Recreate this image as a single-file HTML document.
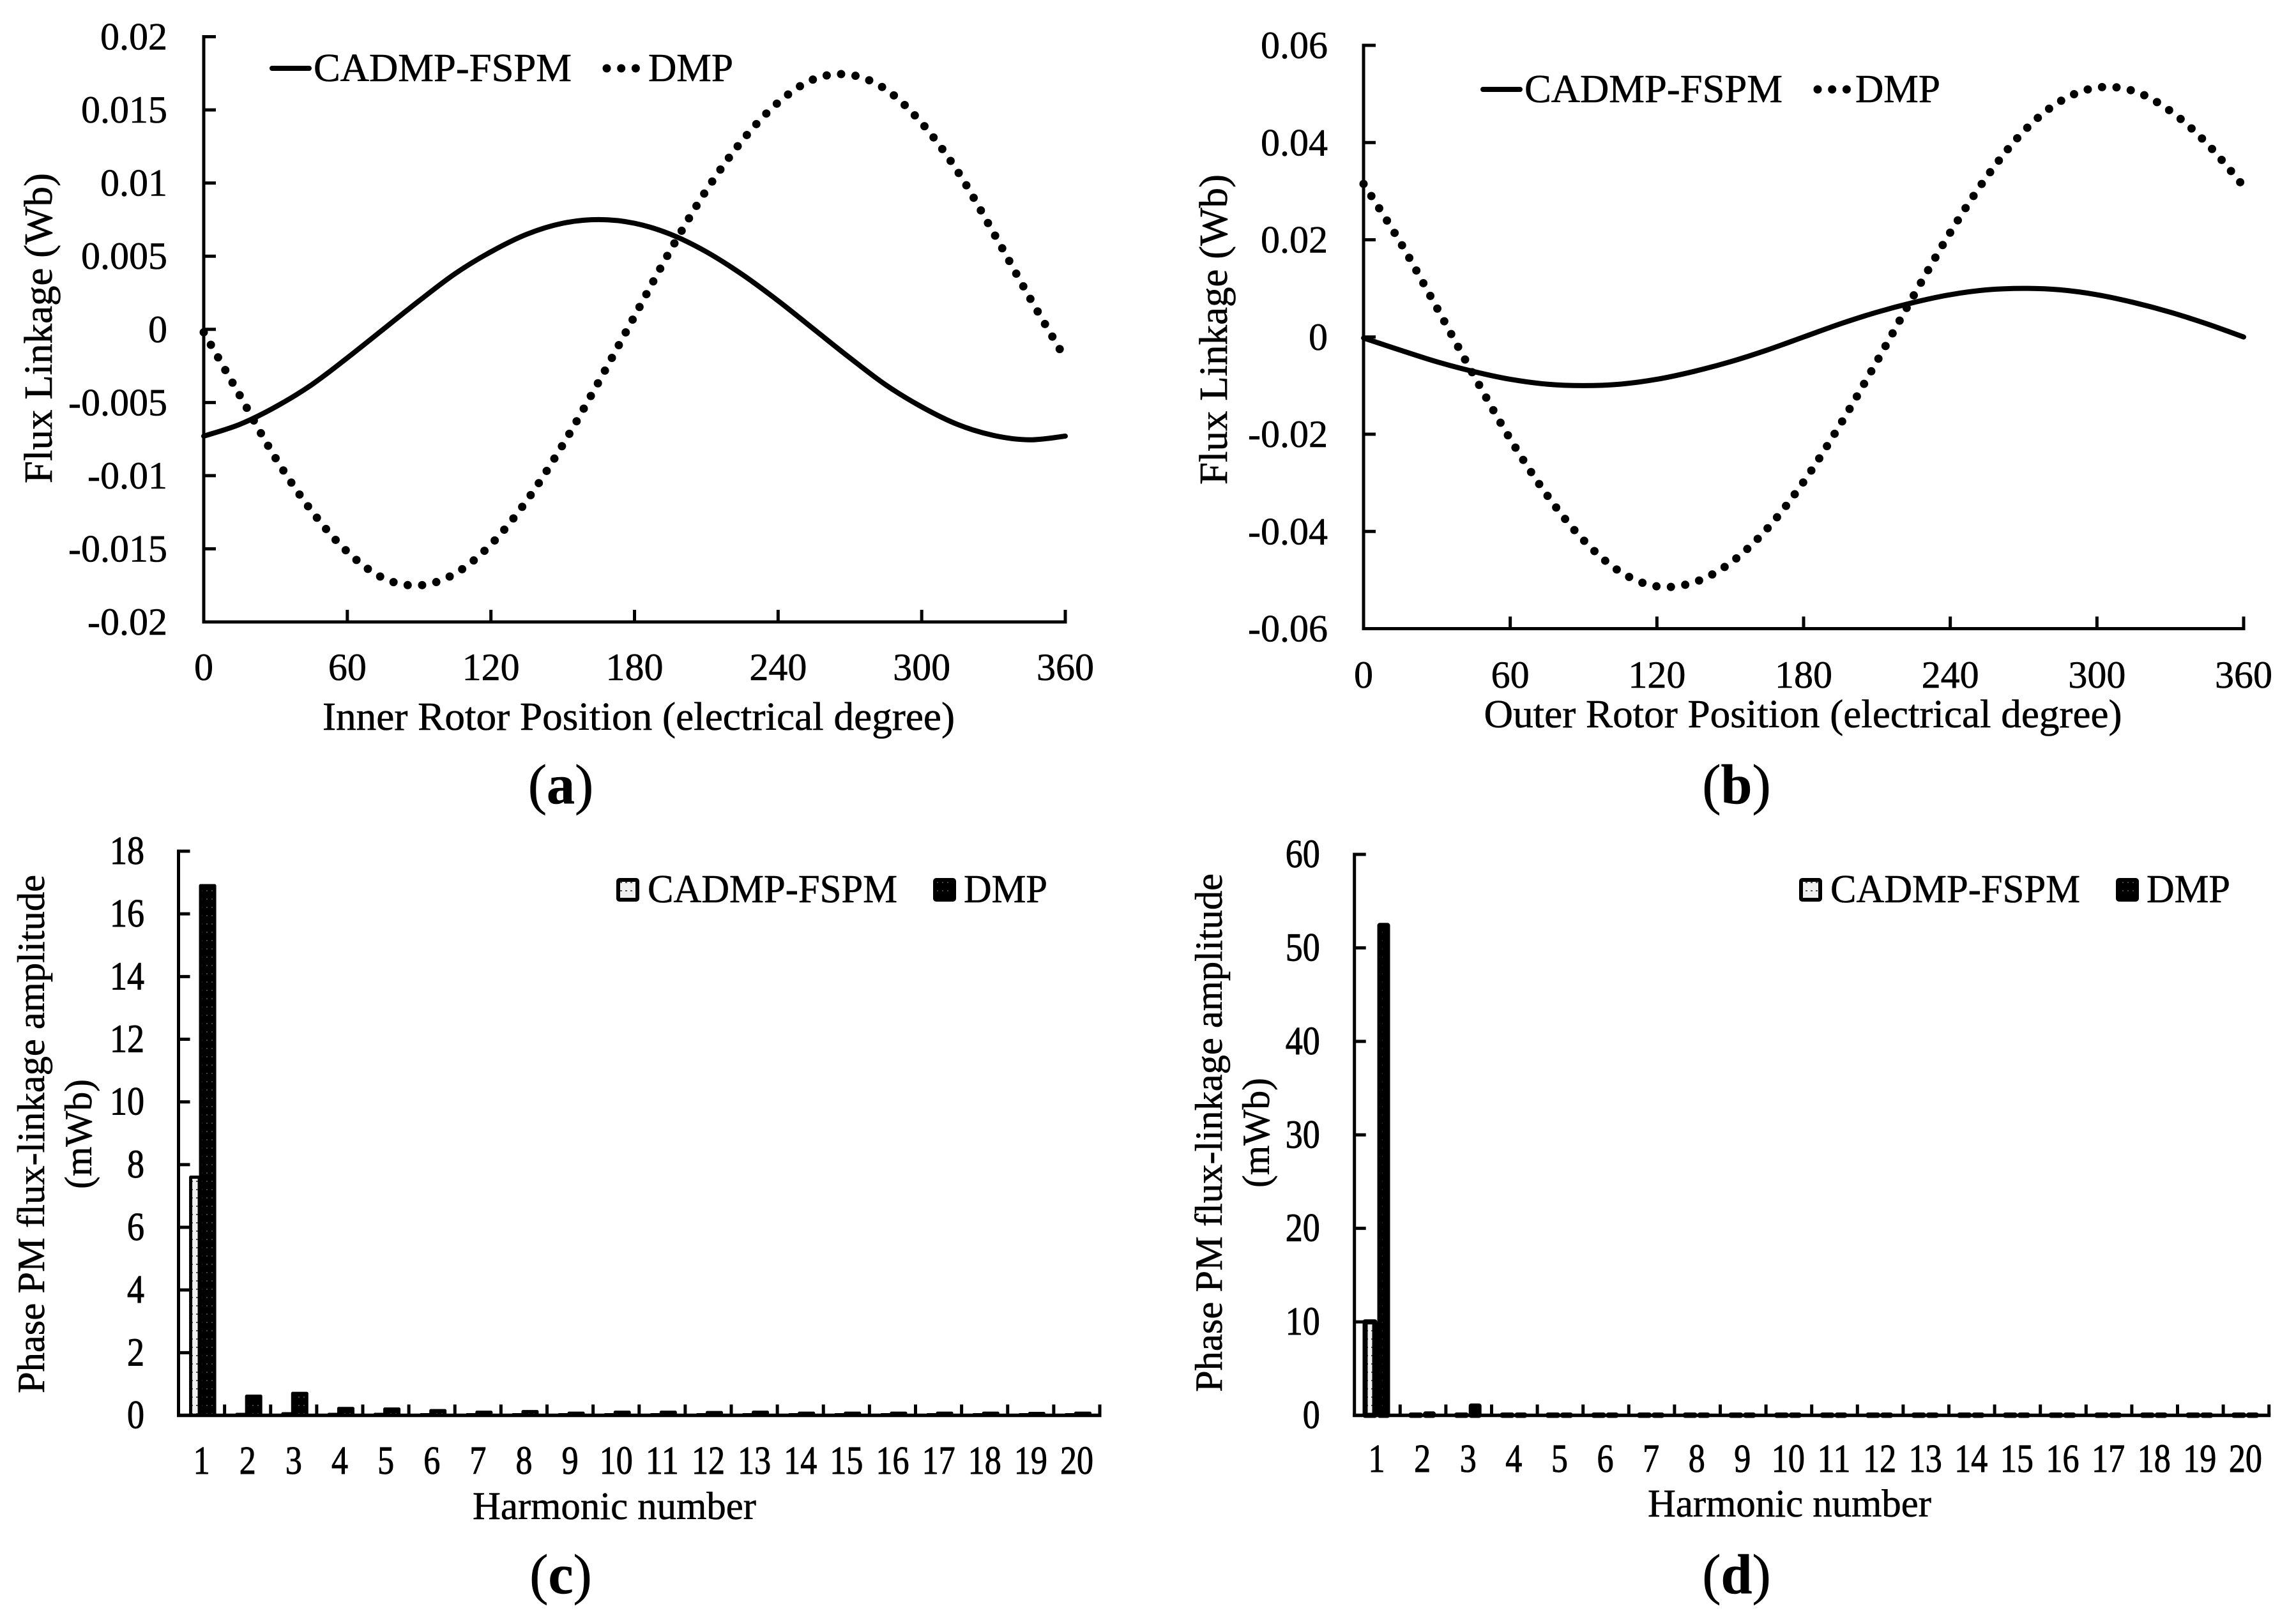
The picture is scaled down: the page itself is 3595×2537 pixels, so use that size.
<!DOCTYPE html>
<html lang="en">
<head>
<meta charset="utf-8">
<title>Flux linkage comparison of CADMP-FSPM and DMP</title>
<style>
html,body{margin:0;padding:0;background:#fff;}
svg{display:block;}
text{font-family:"Liberation Serif",serif;fill:#000;stroke:#000;stroke-width:0.6px;}
</style>
</head>
<body>
<svg id="figure" xmlns="http://www.w3.org/2000/svg" width="3595" height="2537" viewBox="0 0 3595 2537">
<defs>
<pattern id="cadmp-pattern" width="8" height="13" patternUnits="userSpaceOnUse"><rect width="8" height="13" fill="#f0f0f0"/><rect x="3" y="3" width="3" height="2" fill="#555"/></pattern>
<pattern id="dmp-pattern" width="8" height="13" patternUnits="userSpaceOnUse"><rect width="8" height="13" fill="#000"/><rect x="3" y="3" width="2" height="2" fill="#444"/></pattern>
</defs>
</svg>
<script>
// Panel (a): inner rotor flux linkage, sampled every 15 electrical degrees
const positionA = [0,15,30,45,60,75,90,105,120,135,150,165,180,195,210,225,240,255,270,285,300,315,330,345,360];
const cadmpA = [-0.0073,-0.0065,-0.0053,-0.0038,-0.00195,0,0.00195,0.0038,0.0053,0.0065,0.00725,0.0075,0.00725,0.0065,0.0053,0.00375,0.00195,0,-0.00195,-0.0038,-0.0053,-0.0065,-0.00725,-0.00755,-0.0073];
const dmpA = [-0.0002,-0.0045,-0.0088,-0.0124,-0.0152,-0.0170,-0.0175,-0.0167,-0.0147,-0.0117,-0.0079,-0.0036,0.0009,0.0054,0.0095,0.0129,0.0155,0.0171,0.0174,0.0164,0.0141,0.0108,0.0066,0.0022,-0.0020];
const yTicksA = [0.02,0.015,0.01,0.005,0,-0.005,-0.01,-0.015,-0.02];
const xTicksA = [0,60,120,180,240,300,360];

// Panel (b): outer rotor flux linkage
const positionB = [0,15,30,45,60,75,90,105,120,135,150,165,180,195,210,225,240,255,270,285,300,315,330,345,360];
const cadmpB = [-0.0002,-0.0027,-0.0051,-0.0071,-0.0087,-0.0097,-0.0100,-0.0097,-0.0087,-0.0071,-0.0051,-0.0027,0,0.0027,0.0051,0.0071,0.0087,0.0097,0.0100,0.0097,0.0087,0.0071,0.0051,0.0027,0];
const dmpB = [0.0315,0.0195,0.0060,-0.0078,-0.0210,-0.0325,-0.0418,-0.0483,-0.0513,-0.0505,-0.0465,-0.0395,-0.0298,-0.0180,-0.0050,0.0085,0.0215,0.0330,0.0423,0.0485,0.0513,0.0506,0.0465,0.0398,0.0310];
const yTicksB = [0.06,0.04,0.02,0,-0.02,-0.04,-0.06];
const xTicksB = [0,60,120,180,240,300,360];

// Panel (c): inner rotor harmonic amplitudes (mWb)
const harmonics = [1,2,3,4,5,6,7,8,9,10,11,12,13,14,15,16,17,18,19,20];
const cadmpC = [7.6,0.03,0.05,0.03,0.03,0.02,0.02,0.02,0.02,0.02,0.02,0.02,0.02,0.02,0.02,0.02,0.02,0.02,0.02,0.02];
const dmpC = [16.9,0.61,0.7,0.22,0.2,0.15,0.1,0.12,0.07,0.1,0.1,0.09,0.1,0.07,0.07,0.07,0.07,0.07,0.06,0.07];
const yTicksC = [18,16,14,12,10,8,6,4,2,0];

// Panel (d): outer rotor harmonic amplitudes (mWb)
const cadmpD = [10,0.03,0.03,0.03,0.03,0.03,0.03,0.03,0.03,0.03,0.03,0.03,0.03,0.03,0.03,0.03,0.03,0.03,0.03,0.03];
const dmpD = [52.4,0.15,1.0,0.03,0.03,0.03,0.03,0.03,0.03,0.03,0.03,0.03,0.03,0.03,0.03,0.03,0.03,0.03,0.03,0.03];
const yTicksD = [60,50,40,30,20,10,0];

const NS = 'http://www.w3.org/2000/svg';
const root = document.getElementById('figure');

function addLine(parent, name, x1, y1, x2, y2, w) {
  const el = document.createElementNS(NS, 'line');
  
  
  el.setAttribute('x1', x1);
  el.setAttribute('y1', y1);
  el.setAttribute('x2', x2);
  el.setAttribute('y2', y2);
  el.setAttribute('stroke', '#000');
  el.setAttribute('stroke-width', w);
  parent.appendChild(el);
  return el;
}

function addText(parent, name, str, x, y, size, anchor, len, rotate, weight) {
  const el = document.createElementNS(NS, 'text');
  
  
  el.setAttribute('x', x);
  el.setAttribute('y', y);
  el.setAttribute('font-size', size);
  el.setAttribute('text-anchor', anchor);
  if (len) {
    el.setAttribute('textLength', len);
    el.setAttribute('lengthAdjust', 'spacingAndGlyphs');
  }
  if (rotate) {
    el.setAttribute('transform', 'rotate(-90 ' + x + ' ' + y + ')');
  }
  if (weight) {
    el.setAttribute('font-weight', weight);
  }
  el.textContent = str;
  parent.appendChild(el);
  return el;
}

function addGroup(name) {
  const g = document.createElementNS(NS, 'g');
  
  
  root.appendChild(g);
  return g;
}

function smoothPath(xs, ys) {
  let d = 'M' + xs[0] + ' ' + ys[0];
  for (let i = 0; i < xs.length - 1; i++) {
    const x0 = xs[Math.max(i - 1, 0)], y0 = ys[Math.max(i - 1, 0)];
    const x3 = xs[Math.min(i + 2, xs.length - 1)], y3 = ys[Math.min(i + 2, ys.length - 1)];
    const c1x = xs[i] + (xs[i + 1] - x0) / 6, c1y = ys[i] + (ys[i + 1] - y0) / 6;
    const c2x = xs[i + 1] - (x3 - xs[i]) / 6, c2y = ys[i + 1] - (y3 - ys[i]) / 6;
    d += ' C' + c1x.toFixed(2) + ' ' + c1y.toFixed(2) + ' ' + c2x.toFixed(2) + ' ' + c2y.toFixed(2) + ' ' + xs[i + 1].toFixed(2) + ' ' + ys[i + 1].toFixed(2);
  }
  return d;
}

function lineChart(c) {
  const g = addGroup(c.id);
  const sx = v => c.left + (v - 0) * (c.right - c.left) / 360;
  const yMax = c.yTicks[0], yMin = c.yTicks[c.yTicks.length - 1];
  const sy = v => c.top + (yMax - v) * (c.bottom - c.top) / (yMax - yMin);

  const curves = [[c.cadmp, 'cadmp-curve', false], [c.dmp, 'dmp-curve', true]];
  curves.forEach(function (s) {
    const p = document.createElementNS(NS, 'path');
    
    
    p.setAttribute('d', smoothPath(c.x.map(sx), s[0].map(sy)));
    p.setAttribute('fill', 'none');
    p.setAttribute('stroke', '#000');
    p.setAttribute('stroke-linecap', 'round');
    if (s[2]) {
      p.setAttribute('stroke-width', 13);
      p.setAttribute('stroke-dasharray', '0 22.7');
    } else {
      p.setAttribute('stroke-width', 8);
    }
    g.appendChild(p);
  });

  addLine(g, 'y-axis', c.left, c.top - 2.5, c.left, c.bottom + 2.5, 5);
  addLine(g, 'x-axis', c.left - 2.5, c.bottom, c.right + 2.5, c.bottom, 5);
  c.yTicks.forEach(function (t) {
    addLine(g, 'y-tick', c.left, sy(t), c.left + 19, sy(t), 5);
    addText(g, 'y-tick-label', String(t), c.yLabelX, sy(t) + 20, 60, 'end');
  });
  c.xTicks.forEach(function (t) {
    addLine(g, 'x-tick', sx(t), c.bottom, sx(t), c.bottom - 19, 5);
    addText(g, 'x-tick-label', String(t), sx(t), c.xLabelY, 60, 'middle');
  });
  addText(g, 'x-axis-title', c.xTitle, c.xTitleX, c.xTitleY, 62, 'middle', c.xTitleLen);
  addText(g, 'y-axis-title', 'Flux Linkage (Wb)', c.yTitleX, c.yTitleY, 62, 'middle', 486, true);

  addLine(g, 'legend-line-cadmp', c.legX + 3, c.legY, c.legX + 61, c.legY, 8).setAttribute('stroke-linecap', 'round');
  addText(g, 'legend-label-cadmp', 'CADMP-FSPM', c.legX + 68, c.legY + 20, 62, 'start', 404);
  const dots = addLine(g, 'legend-line-dmp', c.legX + 527, c.legY, c.legX + 580, c.legY, 13);
  dots.setAttribute('stroke-linecap', 'round');
  dots.setAttribute('stroke-dasharray', '0 22.7');
  addText(g, 'legend-label-dmp', 'DMP', c.legX + c.dmpLabelOff, c.legY + 20, 62, 'start', 133);
}

function barChart(c) {
  const g = addGroup(c.id);
  const step = (c.right - c.left) / c.cats.length;
  const center = i => c.left + (i + 0.5) * step;
  const yMax = c.yTicks[0];
  const sy = v => c.bottom - v * (c.bottom - c.top) / yMax;

  function bar(name, x, w, v, fill) {
    const el = document.createElementNS(NS, 'rect');
    
    
    el.setAttribute('x', x);
    el.setAttribute('y', sy(v));
    el.setAttribute('width', w);
    el.setAttribute('height', Math.max(c.bottom - sy(v), 0));
    el.setAttribute('fill', fill);
    el.setAttribute('stroke', '#000');
    el.setAttribute('stroke-width', c.barStroke);
    el.setAttribute('stroke-linejoin', 'round');
    g.appendChild(el);
  }
  c.cats.forEach(function (cat, i) {
    bar('bar-cadmp-h' + cat, center(i) + c.aOff, c.aW, c.cadmp[i], 'url(#cadmp-pattern)');
    bar('bar-dmp-h' + cat, center(i) + c.bOff, c.bW, c.dmp[i], 'url(#dmp-pattern)');
  });

  addLine(g, 'y-axis', c.left, c.top - 2.5, c.left, c.bottom + 2.5, 5);
  addLine(g, 'x-axis', c.left - 2.5, c.bottom, c.right + 2.5, c.bottom, 5.5);
  c.yTicks.forEach(function (t) {
    addLine(g, 'y-tick', c.left, sy(t), c.left + 18, sy(t), 5);
    const lab = addText(g, 'y-tick-label', String(t), c.yLabelX, sy(t) + 20, 62, 'end', String(t).length * 27);
    lab.style.strokeWidth = '1px';
  });
  for (let i = 1; i <= c.cats.length; i++) {
    addLine(g, 'x-tick', c.left + i * step, c.bottom, c.left + i * step, c.bottom - 17, 5);
  }
  c.cats.forEach(function (cat, i) {
    const lab = addText(g, 'x-tick-label', String(cat), center(i) + c.catShift, c.xLabelY, 62, 'middle', String(cat).length * 26);
    lab.style.strokeWidth = '1px';
  });
  addText(g, 'x-axis-title', 'Harmonic number', c.xTitleX, c.xTitleY, 61, 'middle', 444);
  addText(g, 'y-axis-title', 'Phase PM flux-linkage amplitude', c.yTitleX, c.yTitleY, 60, 'middle', 812, true);
  addText(g, 'y-axis-unit', '(mWb)', c.unitX, c.yTitleY, 60, 'middle', 172, true);

  function swatch(name, x, fill) {
    const el = document.createElementNS(NS, 'rect');
    
    
    el.setAttribute('x', x + 3);
    el.setAttribute('y', c.legY + 3);
    el.setAttribute('width', 30);
    el.setAttribute('height', 31);
    el.setAttribute('rx', 2);
    el.setAttribute('fill', fill);
    el.setAttribute('stroke', '#000');
    el.setAttribute('stroke-width', 6);
    g.appendChild(el);
  }
  swatch('legend-swatch-cadmp', c.legX, 'url(#cadmp-pattern)');
  addText(g, 'legend-label-cadmp', 'CADMP-FSPM', c.legX + 49, c.legY + 38, 62, 'start', 391);
  swatch('legend-swatch-dmp', c.legX + c.legGap, 'url(#dmp-pattern)');
  addText(g, 'legend-label-dmp', 'DMP', c.legX + c.legGap + 48, c.legY + 38, 62, 'start', 131);
}

function caption(name, letter, x, y) {
  const el = addText(root, name, '', x, y, 88, 'middle');
  const a = document.createElementNS(NS, 'tspan');
  a.textContent = '(';
  el.appendChild(a);
  const b = document.createElementNS(NS, 'tspan');
  b.setAttribute('font-weight', 'bold');
  b.textContent = letter;
  el.appendChild(b);
  const d = document.createElementNS(NS, 'tspan');
  d.textContent = ')';
  el.appendChild(d);
}

lineChart({id:'chart-a-inner-rotor', left:319, right:1668, top:57.5, bottom:974, x:positionA, cadmp:cadmpA, dmp:dmpA, yTicks:yTicksA, xTicks:xTicksA,
  yLabelX:262, xLabelY:1065, xTitle:'Inner Rotor Position (electrical degree)', xTitleX:1000, xTitleY:1143, xTitleLen:990, yTitleX:81, yTitleY:514, legX:423, legY:107, dmpLabelOff:592});
lineChart({id:'chart-b-outer-rotor', left:2135, right:3513, top:71, bottom:984.5, x:positionB, cadmp:cadmpB, dmp:dmpB, yTicks:yTicksB, xTicks:xTicksB,
  yLabelX:2079, xLabelY:1077, xTitle:'Outer Rotor Position (electrical degree)', xTitleX:2823, xTitleY:1139, xTitleLen:999, yTitleX:1921, yTitleY:516, legX:2319, legY:140, dmpLabelOff:586});
barChart({id:'chart-c-inner-harmonics', left:279.5, right:1722, top:1333, bottom:2216.5, cats:harmonics, cadmp:cadmpC, dmp:dmpC, yTicks:yTicksC,
  aOff:-17, aW:13.5, bOff:-1.5, bW:22, barStroke:5, yLabelX:226, xLabelY:2308, catShift:0, xTitleX:962, xTitleY:2379, yTitleX:69, yTitleY:1776, unitX:143, legX:965, legY:1375, legGap:496});
barChart({id:'chart-d-outer-harmonics', left:2120.7, right:3552.7, top:1338, bottom:2216.5, cats:harmonics, cadmp:cadmpD, dmp:dmpD, yTicks:yTicksD,
  aOff:-19, aW:15, bOff:4, bW:12, barStroke:8, yLabelX:2066.7, xLabelY:2305, catShift:-1, xTitleX:2802, xTitleY:2375, yTitleX:1913, yTitleY:1774, unitX:1987, legX:2817, legY:1375, legGap:496});

caption('caption-a', 'a', 878, 1258);
caption('caption-b', 'b', 2719, 1258);
caption('caption-c', 'c', 878, 2495);
caption('caption-d', 'd', 2719, 2495);
</script>
</body>
</html>
